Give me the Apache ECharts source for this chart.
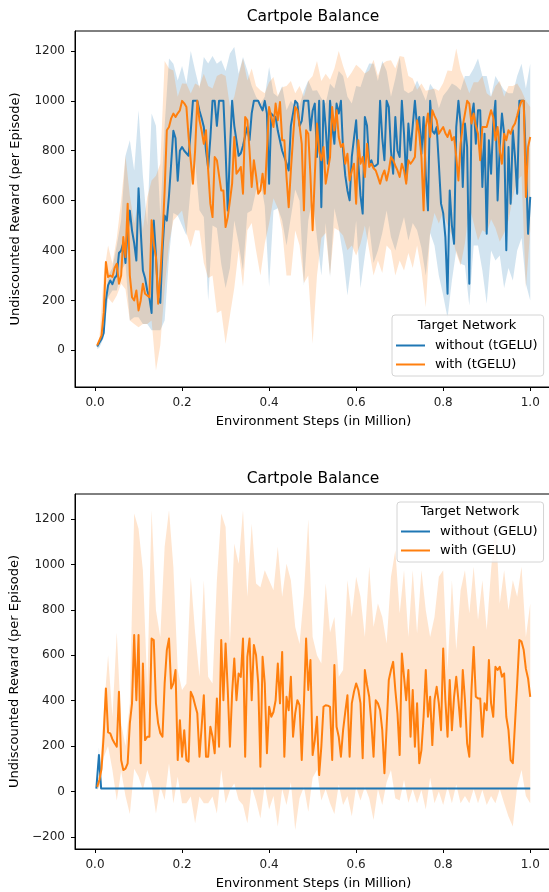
<!DOCTYPE html>
<html>
<head>
<meta charset="utf-8">
<title>Cartpole Balance</title>
<script src="https://cdn.jsdelivr.net/npm/echarts@6/dist/echarts.min.js"></script>
<style>
  html, body { margin: 0; padding: 0; background: #fff; }
  #chart { width: 549px; height: 892px; }
</style>
</head>
<body>
<div id="chart"></div>
<script>
const FONT = '"DejaVu Sans", sans-serif';
const BLUE = '#1f77b4';
const ORANGE = '#ff7f0e';
const BLUE_FILL = 'rgba(31, 119, 180, 0.2)';
const ORANGE_FILL = 'rgba(255, 127, 14, 0.2)';

// evaluation points, in million environment steps
const lineSteps = Array.from({ length: 200 }, (_, i) => +((i + 1) * 0.005).toFixed(3));
const bandSteps = [0.005].concat(Array.from({ length: 100 }, (_, i) => +((i + 1) * 0.01).toFixed(2)));

const xTicks = [0, 0.2, 0.4, 0.6, 0.8, 1.0];
const yTicksTop = [0, 200, 400, 600, 800, 1000, 1200];
const yTicksBottom = [-200, 0, 200, 400, 600, 800, 1000, 1200];

// ---- top panel: tGELU ----
const tgeluWithoutMean = [
  15, 30, 45, 70, 200, 260, 280, 265, 290, 300, 390, 400, 430, 350, 480, 560, 480, 430, 360, 650,
  480, 320, 290, 240, 210, 150, 520, 380, 210, 190, 400, 540, 520, 620, 750, 880, 850, 680, 800, 815,
  800, 790, 780, 880, 1000, 1000, 1000, 960, 930, 895, 800, 730, 850, 1000, 1000, 900, 1000, 1000, 1000, 800,
  560, 800, 1000, 900, 840, 780, 790, 820, 860, 895, 842, 950, 1000, 1000, 1000, 980, 962, 1000, 949, 668,
  949, 940, 935, 880, 840, 800, 775, 750, 721, 900, 950, 1000, 990, 900, 920, 1000, 1000, 1000, 882, 960,
  989, 775, 1000, 574, 1000, 895, 748, 1000, 900, 828, 989, 949, 1000, 800, 700, 641, 601, 775, 850, 922,
  750, 620, 548, 935, 900, 748, 762, 735, 740, 748, 1000, 850, 762, 1000, 975, 800, 708, 935, 800, 775,
  1000, 868, 681, 909, 802, 900, 1000, 895, 935, 788, 935, 700, 561, 1000, 880, 868, 895, 748, 588, 550,
  454, 227, 641, 500, 427, 895, 1000, 909, 655, 909, 815, 267, 935, 989, 828, 962, 962, 655, 868, 467,
  842, 708, 909, 1000, 601, 815, 949, 868, 401, 815, 588, 882, 775, 628, 1000, 1000, 1000, 762, 467, 615
];
const tgeluWithMean = [
  20, 40, 60, 150, 354, 294, 300, 294, 330, 347, 267, 300, 454, 374, 588, 300, 213, 200, 240, 160,
  200, 267, 227, 220, 213, 521, 427, 374, 187, 300, 454, 641, 882, 895, 930, 949, 935, 950, 962, 1000,
  990, 975, 855, 760, 668, 802, 1000, 922, 880, 828, 882, 721, 588, 534, 775, 762, 700, 641, 641, 494,
  534, 600, 668, 855, 708, 720, 735, 628, 935, 922, 802, 655, 762, 700, 628, 641, 708, 628, 800, 975,
  935, 895, 989, 922, 995, 842, 842, 695, 574, 721, 850, 975, 962, 900, 828, 561, 882, 868, 700, 481,
  700, 909, 800, 762, 815, 668, 720, 775, 975, 882, 962, 855, 815, 828, 748, 788, 681, 720, 748, 588,
  842, 748, 775, 695, 828, 735, 748, 730, 721, 695, 668, 700, 721, 681, 720, 775, 762, 740, 721, 695,
  748, 721, 668, 762, 748, 760, 775, 922, 868, 775, 561, 895, 949, 855, 962, 940, 922, 868, 882, 895,
  870, 855, 882, 842, 855, 775, 681, 828, 900, 949, 1000, 989, 909, 949, 900, 868, 762, 895, 895, 895,
  930, 962, 935, 842, 895, 800, 748, 868, 842, 882, 868, 895, 909, 940, 975, 1000, 1000, 615, 815, 855
];
const tgeluWithoutUpper = [
  20, 40, 90, 300, 330, 420, 520, 780, 842, 721, 962,
  700, 500, 949, 900, 534, 900, 1170, 1149, 1082, 1140,
  1069, 1200, 1122, 1050, 1176, 1150, 1180, 1149, 1163, 1120,
  1190, 1216, 1109, 1176, 1122, 1060, 1016, 989, 1016, 1136,
  1030, 1016, 1060, 962, 1000, 975, 980, 1040, 1082, 1040,
  1042, 1010, 989, 1069, 1050, 1120, 1100, 1016, 989, 1060,
  1056, 1110, 1150, 1149, 1080, 1160, 1120, 1016, 1090, 1176,
  1042, 1030, 1040, 1082, 1042, 1000, 1069, 1042, 970, 1020,
  1042, 1070, 1060, 1042, 1100, 1100, 1130, 1170, 1100, 1100,
  1016, 1100, 1070, 1042, 1030, 1030, 1100, 1149, 1050, 1149
];
const tgeluWithoutLower = [
  5, 10, 50, 213, 240, 240, 320, 347, 120, 133, 133,
  106, 106, 80, 80, 80, 120, 374, 550, 540, 500,
  460, 655, 760, 561, 534, 200, 500, 490, 347, 250,
  330, 520, 430, 320, 550, 560, 641, 680, 580, 254,
  560, 570, 520, 420, 534, 645, 600, 260, 520, 614,
  450, 300, 510, 294, 570, 490, 380, 220, 360, 520,
  250, 380, 500, 350, 400, 470, 560, 454, 400, 470,
  534, 440, 510, 481, 410, 300, 470, 420, 300, 220,
  130, 280, 400, 347, 340, 180, 420, 420, 320, 187,
  400, 360, 380, 250, 330, 280, 400, 450, 267, 200
];
const tgeluWithUpper = [
  25, 45, 300, 420, 347, 450, 600, 780, 620, 508, 600,
  481, 614, 681, 700, 748, 1160, 1130, 1122, 1016, 1070,
  1069, 1029, 1070, 1060, 1109, 1060, 1050, 1100, 1109, 1100,
  975, 1016, 1100, 1170, 1082, 1130, 1060, 1042, 1030, 1075,
  1096, 1020, 1055, 1060, 1080, 1030, 1060, 1016, 1080, 1100,
  1160, 1080, 1109, 1085, 1130, 1200, 1140, 1090, 1115, 1145,
  1130, 1110, 1122, 1165, 1100, 1149, 1160, 1163, 1130, 1180,
  1176, 1100, 1090, 1045, 1070, 1040, 1045, 1050, 1040, 1072,
  1122, 1120, 1210, 1122, 1080, 1030, 1075, 1075, 1100, 1030,
  1016, 1060, 1080, 1016, 1060, 1060, 1070, 1040, 1000, 975
];
const tgeluWithLower = [
  10, 30, 120, 210, 190, 220, 267, 245, 120, 106, 93,
  106, 106, 120, -81, 20, 250, 427, 520, 540, 560,
  470, 414, 481, 480, 350, 290, 300, 150, 160, 26,
  140, 250, 401, 255, 481, 510, 400, 300, 427, 508,
  610, 570, 481, 300, 300, 480, 420, 270, 300, 26,
  300, 450, 470, 300, 490, 480, 460, 401, 420, 380,
  427, 500, 400, 300, 360, 310, 420, 401, 300, 360,
  320, 390, 330, 420, 320, 173, 470, 550, 508, 555,
  500, 460, 390, 340, 430, 580, 510, 440, 481, 470,
  525, 490, 435, 470, 520, 614, 680, 700, 250, 481
];

// ---- bottom panel: GELU ----
const geluWithoutSteps = [0.003, 0.009, 0.014, 1.0];
const geluWithoutMean = [12, 160, 13, 13];
const geluWithoutUpper = [15, 195, 16, 16];
const geluWithoutLower = [10, 125, 10, 10];

const geluWithMean = [
  20, 50, 100, 250, 454, 260, 256, 230, 212, 197, 439, 138, 94, 100, 124, 300, 388, 689, 402, 689,
  124, 564, 226, 241, 241, 674, 667, 388, 300, 256, 241, 476, 623, 674, 454, 476, 535, 138, 314, 153,
  270, 138, 131, 439, 417, 380, 344, 153, 285, 424, 153, 153, 285, 241, 168, 410, 197, 667, 402, 652,
  447, 197, 432, 586, 402, 520, 505, 674, 153, 593, 674, 402, 645, 600, 476, 109, 593, 476, 168, 373,
  329, 350, 402, 564, 388, 615, 153, 417, 358, 505, 241, 344, 402, 380, 138, 388, 674, 447, 579, 160,
  226, 329, 72, 197, 373, 380, 378, 373, 138, 557, 285, 241, 153, 270, 350, 424, 153, 388, 439, 476,
  447, 388, 146, 535, 470, 417, 300, 153, 402, 388, 358, 270, 80, 285, 491, 535, 571, 447, 344, 160,
  608, 505, 402, 535, 241, 447, 197, 388, 124, 182, 329, 535, 329, 417, 204, 402, 461, 388, 270, 630,
  402, 241, 491, 270, 417, 505, 400, 285, 535, 402, 212, 153, 447, 637, 417, 410, 410, 241, 388, 358,
  579, 388, 329, 549, 535, 549, 505, 520, 329, 270, 138, 124, 300, 476, 667, 660, 623, 540, 498, 417
];
const geluWithUpper = [
  20, 60, 350, 600, 329, 700, 300, 200, 388, 1225, 1158,
  975, 461, 1239, 799, 681, 1078, 1239, 990, 535, 447,
  476, 946, 700, 505, 931, 505, 476, 931, 1225, 1166,
  650, 1092, 1004, 1239, 858, 1180, 916, 900, 975, 931,
  887, 1078, 858, 1004, 931, 725, 650, 872, 1200, 681,
  600, 564, 916, 700, 769, 505, 535, 931, 769, 946,
  858, 681, 990, 725, 828, 769, 652, 946, 1063, 784,
  975, 681, 975, 696, 975, 799, 681, 769, 946, 975,
  535, 931, 623, 887, 975, 784, 990, 755, 931, 711,
  975, 1200, 828, 975, 799, 931, 858, 990, 681, 828
];
const geluWithLower = [
  5, 20, 150, 200, 94, -40, 90, -20, -100, 100, 65,
  6, 94, 35, -97, 21, -38, 124, -52, 65, -52,
  -52, -23, -141, -23, -52, -52, -23, -97, 94, -52,
  6, 35, -38, -60, -141, 20, -40, -120, 30, -80,
  -20, -155, 10, -60, 40, -170, -30, 20, -90, 60,
  94, -40, 10, -52, -100, 30, -60, -20, -110, 20,
  -40, 21, -30, -126, 10, -60, 40, 94, -30, -40,
  50, -50, 10, -52, 6, -80, 60, -52, 0, -60,
  20, -52, 30, -52, -20, -52, 10, -52, 6, -60,
  -20, -52, 10, -52, -111, -155, 21, 94, -20, -52
];

function zip(xs, ys) {
  return xs.map((x, i) => [x, ys[i]]);
}

// shaded spread drawn as one polygon through the axis scales
function band(xs, lo, hi, fill, idx) {
  return {
    type: 'custom',
    xAxisIndex: idx,
    yAxisIndex: idx,
    silent: true,
    data: [[xs[0], lo[0]]],
    renderItem(params, api) {
      const pts = [];
      for (let i = 0; i < xs.length; i++) pts.push(api.coord([xs[i], hi[i]]));
      for (let i = xs.length - 1; i >= 0; i--) pts.push(api.coord([xs[i], lo[i]]));
      return { type: 'polygon', shape: { points: pts }, style: { fill: fill } };
    }
  };
}

function line(name, xs, ys, color, idx) {
  return {
    type: 'line',
    name: name,
    xAxisIndex: idx,
    yAxisIndex: idx,
    data: zip(xs, ys),
    symbol: 'none',
    showSymbol: false,
    lineStyle: { color: color, width: 2, join: 'round' },
    itemStyle: { color: color },
    emphasis: { disabled: true }
  };
}

function xAxisFor(idx) {
  return {
    type: 'value',
    gridIndex: idx,
    min: -0.046,
    max: 1.05,
    name: 'Environment Steps (in Million)',
    nameLocation: 'middle',
    nameGap: 28,
    nameTextStyle: { fontSize: 13, color: '#000', fontFamily: FONT },
    axisLine: { show: true, onZero: false, lineStyle: { color: '#000', width: 1 } },
    axisTick: { show: true, length: 4, customValues: xTicks, lineStyle: { color: '#000' } },
    axisLabel: {
      customValues: xTicks,
      formatter: v => Number(v).toFixed(1),
      fontSize: 12, color: '#222', margin: 10, fontFamily: FONT
    },
    splitLine: { show: false }
  };
}

function yAxisFor(idx, min, max, ticks) {
  return {
    type: 'value',
    gridIndex: idx,
    min: min,
    max: max,
    name: 'Undiscounted Reward (per Episode)',
    nameLocation: 'middle',
    nameGap: 53,
    nameTextStyle: { fontSize: 13, color: '#000', fontFamily: FONT },
    axisLine: { show: true, onZero: false, lineStyle: { color: '#000', width: 1 } },
    axisTick: { show: true, length: 4, customValues: ticks, lineStyle: { color: '#000' } },
    axisLabel: {
      customValues: ticks,
      formatter: v => (v < 0 ? '\u2212' + Math.abs(v) : String(v)),
      fontSize: 12, color: '#222', margin: 10, fontFamily: FONT
    },
    splitLine: { show: false }
  };
}

function legendFor(names, left, top, padTop) {
  return {
    data: names,
    orient: 'vertical',
    left: left,
    top: top,
    padding: [padTop, 6, 5, 4],
    icon: 'rect',
    itemWidth: 29,
    itemHeight: 2,
    itemGap: 6,
    selectedMode: false,
    backgroundColor: 'rgba(255, 255, 255, 0.8)',
    borderColor: '#d4d4d4',
    borderWidth: 1,
    borderRadius: 3,
    textStyle: { fontSize: 13, color: '#000', fontFamily: FONT, padding: [0, 0, 0, 5] }
  };
}

function label(text, x, y, size) {
  return {
    type: 'text',
    x: x,
    y: y,
    z: 100,
    style: {
      text: text, fill: '#000', fontSize: size, fontFamily: FONT,
      align: 'center', verticalAlign: 'middle'
    }
  };
}

const chart = echarts.init(document.getElementById('chart'), null, { renderer: 'canvas' });

// the axes box runs past the right edge of the picture, as in the original figure
const gridBase = { left: 75, width: 477, show: true, borderColor: '#000', borderWidth: 1, outerBoundsMode: 'none' };

chart.setOption({
  animation: false,
  backgroundColor: '#fff',
  grid: [
    Object.assign({ top: 31, height: 356 }, gridBase),
    Object.assign({ top: 494, height: 355 }, gridBase)
  ],
  xAxis: [xAxisFor(0), xAxisFor(1)],
  yAxis: [
    yAxisFor(0, -147, 1280, yTicksTop),
    yAxisFor(1, -254, 1311, yTicksBottom)
  ],
  legend: [
    legendFor(['without (tGELU)', 'with (tGELU)'], 392, 315, 24),
    legendFor(['without (GELU)', 'with (GELU)'], 397, 502, 23)
  ],
  graphic: [
    label('Cartpole Balance', 313, 17, 15.5),
    label('Cartpole Balance', 313, 479, 15.5),
    label('Target Network', 467, 326, 13),
    label('Target Network', 470, 512, 13)
  ],
  series: [
    band(bandSteps, tgeluWithoutLower, tgeluWithoutUpper, BLUE_FILL, 0),
    line('without (tGELU)', lineSteps, tgeluWithoutMean, BLUE, 0),
    band(bandSteps, tgeluWithLower, tgeluWithUpper, ORANGE_FILL, 0),
    line('with (tGELU)', lineSteps, tgeluWithMean, ORANGE, 0),

    band(geluWithoutSteps, geluWithoutLower, geluWithoutUpper, BLUE_FILL, 1),
    line('without (GELU)', geluWithoutSteps, geluWithoutMean, BLUE, 1),
    band(bandSteps, geluWithLower, geluWithUpper, ORANGE_FILL, 1),
    line('with (GELU)', lineSteps, geluWithMean, ORANGE, 1)
  ]
});
</script>
</body>
</html>
